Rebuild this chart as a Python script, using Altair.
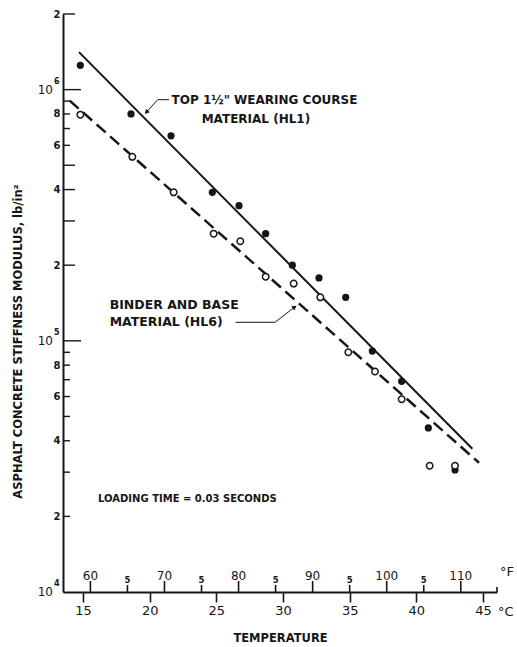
import altair as alt
import pandas as pd

# ---- measured data -------------------------------------------------------
# Top 1-1/2" wearing course material (HL1), filled symbols
HL1_TEMP_C = [14.8, 18.6, 21.6, 24.7, 26.7, 28.7, 30.7, 32.7, 34.7, 36.7, 38.9, 40.9, 42.9]
HL1_STIFF = [1.25e6, 8.0e5, 6.55e5, 3.9e5, 3.45e5, 2.67e5, 2.0e5, 1.78e5, 1.49e5,
             9.1e4, 6.9e4, 4.5e4, 3.06e4]

# Binder and base material (HL6), open symbols
HL6_TEMP_C = [14.8, 18.7, 21.8, 24.8, 26.8, 28.7, 30.8, 32.8, 34.9, 36.9, 38.9, 41.0, 42.9]
HL6_STIFF = [7.95e5, 5.4e5, 3.9e5, 2.67e5, 2.49e5, 1.8e5, 1.69e5, 1.49e5, 9.0e4,
             7.55e4, 5.85e4, 3.18e4, 3.18e4]

# fitted straight lines (end points on the semi-log plot)
HL1_FIT_TEMP = [14.7, 44.2]
HL1_FIT_STIFF = [1.41e6, 3.72e4]
HL6_FIT_TEMP = [14.0, 44.7]
HL6_FIT_STIFF = [9.04e5, 3.27e4]

# axis ticks
C_TICKS = [15, 20, 25, 30, 35, 40, 45]
F_MAJOR = [60, 70, 80, 90, 100, 110]
F_MINOR = [65, 75, 85, 95, 105]
Y_LABEL_VALUES = [2e6, 8e5, 6e5, 4e5, 2e5, 8e4, 6e4, 4e4, 2e4]
Y_LABEL_TEXT = ["2", "8", "6", "4", "2", "8", "6", "4", "2"]
DECADES = [1e4, 1e5, 1e6]
DECADE_EXP = ["4", "5", "6"]
Y_TICKS_LONG = [1e5, 1e6]
Y_TICKS_MID = [2e5, 3e5, 4e5, 5e5, 2e6]
Y_TICKS_SHORT = [2e4, 3e4, 4e4, 5e4, 6e4, 7e4, 8e4, 9e4, 6e5, 7e5, 8e5, 9e5]

# annotations (anchored in data coordinates)
NOTE_TEMP = [21.64, 23.9, 17.0, 17.0, 16.13]
NOTE_STIFF = [9.12e5, 7.64e5, 1.387e5, 1.185e5, 2.336e4]
NOTE_TEXT = ["TOP 1\u00bd\" WEARING COURSE", "MATERIAL (HL1)",
             "BINDER AND BASE", "MATERIAL (HL6)", "LOADING TIME = 0.03 SECONDS"]
LEADER1_TEMP = [21.45, 20.61, 19.79]
LEADER1_STIFF = [9.12e5, 9.12e5, 8.17e5]
LEADER2_TEMP = [26.45, 29.4, 30.83]
LEADER2_STIFF = [1.185e5, 1.185e5, 1.357e5]

# ---- styling ---------------------------------------------------------------
INK = "#161616"
FONT = "DejaVu Sans"
W, H = 434, 578

xs = alt.Scale(domain=[13.5, 46.05], nice=False, zero=False)
ys = alt.Scale(type="log", domain=[1e4, 2e6], nice=False)


def label_expr(values, texts):
    expr = "''"
    for v, t in zip(values, texts):
        expr = f"datum.value == {v:g} ? '{t}' : ({expr})"
    return expr


x_axis = alt.Axis(values=C_TICKS, grid=False, tickSize=10, tickWidth=1.6, tickColor=INK,
                  domainColor=INK, domainWidth=2, labelFont=FONT, labelFontSize=13,
                  labelColor=INK, labelPadding=2, labelFlush=False,
                  title="TEMPERATURE", titleFont=FONT, titleFontSize=11.5,
                  titleFontWeight="bold", titleColor=INK, titleY=46, titleBaseline="middle")

y_axis = alt.Axis(values=Y_LABEL_VALUES, grid=False, ticks=False, domainColor=INK,
                  domainWidth=2, labelFont=FONT, labelFontSize=10, labelFontWeight="bold",
                  labelColor=INK, labelPadding=3, labelFlush=False,
                  labelExpr=label_expr(Y_LABEL_VALUES, Y_LABEL_TEXT),
                  title="ASPHALT CONCRETE STIFFNESS MODULUS, lb/in\u00b2", titleFont=FONT,
                  titleFontSize=11.5, titleFontWeight="bold", titleColor=INK,
                  titleAngle=270, titleX=-45, titleY=327, titleAlign="center",
                  titleBaseline="middle")

hl1 = pd.DataFrame({"temp_c": HL1_TEMP_C, "stiffness": HL1_STIFF})
hl6 = pd.DataFrame({"temp_c": HL6_TEMP_C, "stiffness": HL6_STIFF})
fit1 = pd.DataFrame({"temp_c": HL1_FIT_TEMP, "stiffness": HL1_FIT_STIFF})
fit6 = pd.DataFrame({"temp_c": HL6_FIT_TEMP, "stiffness": HL6_FIT_STIFF})
notes = pd.DataFrame({"temp_c": NOTE_TEMP, "stiffness": NOTE_STIFF, "label": NOTE_TEXT})
leader1 = pd.DataFrame({"temp_c": LEADER1_TEMP, "stiffness": LEADER1_STIFF,
                        "i": range(len(LEADER1_TEMP))})
leader2 = pd.DataFrame({"temp_c": LEADER2_TEMP, "stiffness": LEADER2_STIFF,
                        "i": range(len(LEADER2_TEMP))})

X = alt.X("temp_c:Q", scale=xs)
Y = alt.Y("stiffness:Q", scale=ys)

pts1 = alt.Chart(hl1).mark_circle(size=52, color=INK, opacity=1).encode(
    x=alt.X("temp_c:Q", scale=xs, axis=x_axis),
    y=alt.Y("stiffness:Q", scale=ys, axis=y_axis))

pts6 = alt.Chart(hl6).mark_point(shape="circle", size=42, filled=False, fill="white",
                                 stroke=INK, strokeWidth=1.5, opacity=1).encode(x=X, y=Y)

line1 = alt.Chart(fit1).mark_line(color=INK, strokeWidth=2).encode(x=X, y=Y)
line6 = alt.Chart(fit6).mark_line(color=INK, strokeWidth=2.5,
                                  strokeDash=[12, 6]).encode(x=X, y=Y)

lead1 = alt.Chart(leader1).mark_line(color=INK, strokeWidth=1).encode(x=X, y=Y, order="i:O")
lead2 = alt.Chart(leader2).mark_line(color=INK, strokeWidth=1).encode(x=X, y=Y, order="i:O")
arrow1 = alt.Chart(leader1.tail(1)).mark_point(shape="triangle", filled=True, size=28,
                                               color=INK, opacity=1, angle=222).encode(x=X, y=Y)
arrow2 = alt.Chart(leader2.tail(1)).mark_point(shape="triangle", filled=True, size=28,
                                               color=INK, opacity=1, angle=54).encode(x=X, y=Y)

note_sizes = {0: 12, 1: 12, 2: 12.5, 3: 12.5, 4: 10}
note_layers = []
for idx, size in note_sizes.items():
    note_layers.append(
        alt.Chart(notes.iloc[[idx]]).mark_text(align="left", baseline="middle", font=FONT,
                                               fontSize=size, fontWeight="bold",
                                               color=INK).encode(x=X, y=Y, text="label:N"))

# inward ticks on the stiffness axis
def y_ticks(values, length):
    return alt.Chart(pd.DataFrame({"stiffness": values})).mark_rule(
        color=INK, strokeWidth=1.4).encode(y=Y, x=alt.value(0), x2=alt.value(length))

yt = [y_ticks(Y_TICKS_LONG, 18), y_ticks(Y_TICKS_MID, 12), y_ticks(Y_TICKS_SHORT, 7)]

# powers of ten
dec = pd.DataFrame({"stiffness": DECADES, "exp": DECADE_EXP, "base": ["10"] * 3})
dec_base = alt.Chart(dec).mark_text(align="right", baseline="middle", font=FONT,
                                    fontSize=12, color=INK).encode(
    y=Y, x=alt.value(-10), text="base:N")
dec_exp = alt.Chart(dec).mark_text(align="left", baseline="middle", font=FONT,
                                   fontSize=8, fontWeight="bold", color=INK, dy=-8).encode(
    y=Y, x=alt.value(-9), text="exp:N")

# Fahrenheit scale drawn on top of the Celsius axis
f_major = pd.DataFrame({"fahrenheit": F_MAJOR})
f_minor = pd.DataFrame({"fahrenheit": F_MINOR})
to_c = "(datum.fahrenheit - 32) * 5 / 9"

f_major_ticks = alt.Chart(f_major).transform_calculate(temp_c=to_c).mark_rule(
    color=INK, strokeWidth=1.6).encode(x=X, y=alt.value(H), y2=alt.value(H - 11))
f_minor_ticks = alt.Chart(f_minor).transform_calculate(temp_c=to_c).mark_rule(
    color=INK, strokeWidth=1.6).encode(x=X, y=alt.value(H), y2=alt.value(H - 7))
f_major_labels = alt.Chart(f_major).transform_calculate(
    temp_c=to_c, txt="format(datum.fahrenheit, 'd')").mark_text(
    align="center", baseline="alphabetic", font=FONT, fontSize=12, color=INK).encode(
    x=X, y=alt.value(H - 12), text="txt:N")
f_minor_labels = alt.Chart(f_minor).transform_calculate(
    temp_c=to_c, txt="'5'").mark_text(
    align="center", baseline="alphabetic", font=FONT, fontSize=8.5, fontWeight="bold",
    color=INK).encode(x=X, y=alt.value(H - 9), text="txt:N")

# short end cap at the right end of the temperature axis
end_cap = alt.Chart(pd.DataFrame({"k": [0]})).mark_rule(
    color=INK, strokeWidth=1.6).encode(x=alt.value(W), y=alt.value(H), y2=alt.value(H - 5))

unit_f = alt.Chart(pd.DataFrame({"t": ["\u00b0F"]})).mark_text(
    align="left", baseline="middle", font=FONT, fontSize=13, color=INK).encode(
    x=alt.value(437), y=alt.value(H - 20), text="t:N")
unit_c = alt.Chart(pd.DataFrame({"t": ["\u00b0C"]})).mark_text(
    align="left", baseline="middle", font=FONT, fontSize=13, color=INK).encode(
    x=alt.value(435), y=alt.value(H + 20), text="t:N")

chart = alt.layer(
    pts1, line1, line6, pts6, lead1, lead2, arrow1, arrow2, *note_layers, *yt,
    dec_base, dec_exp, f_major_ticks, f_minor_ticks, f_major_labels, f_minor_labels,
    end_cap, unit_f, unit_c,
).properties(
    width=W, height=H,
    autosize=alt.AutoSizeParams(type="none"),
    padding={"left": 63, "top": 14, "right": 20, "bottom": 55},
    background="white",
).configure_view(stroke=None)

chart.save("out.html", embed_options={"renderer": "svg", "actions": False})
